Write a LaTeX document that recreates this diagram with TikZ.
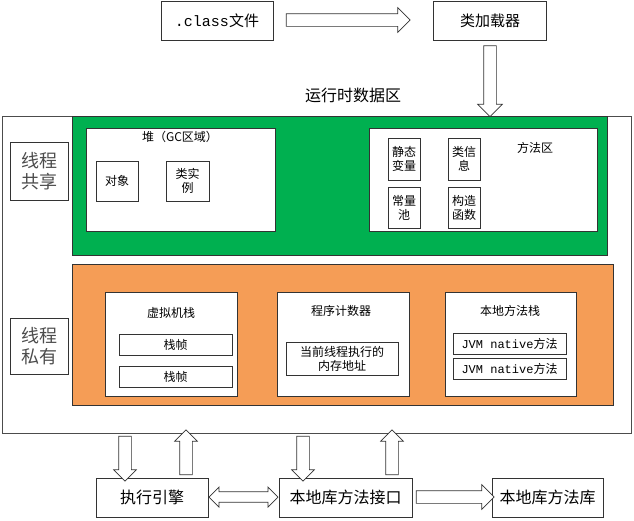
\documentclass[tikz,border=0pt]{standalone}
\usepackage{fontspec}
\setmainfont{Noto Sans CJK SC}
\newfontfamily\monof{Liberation Mono}
\usetikzlibrary{shapes.arrows}
\definecolor{gr}{HTML}{00B050}
\definecolor{og}{HTML}{F59D56}
\begin{document}
\begin{tikzpicture}[x=1pt,y=-1pt,
  bx/.style={draw=black!80,fill=white,line width=0.8pt},
  lbl/.style={font=\fontsize{12}{14}\selectfont,align=center},
  harr/.style={single arrow,draw=black!80,fill=white,inner sep=0pt,minimum width=24pt,single arrow head extend=6pt,single arrow head indent=0pt,text height=12pt, text depth=0pt,line width=0.7pt},
  varr/.style={harr,minimum width=22pt,single arrow head extend=5pt},
  darr/.style={double arrow,draw=black!80,fill=white,inner sep=0pt,minimum width=20pt,double arrow head extend=4pt,text height=8pt,text depth=0pt,line width=0.7pt}]
\useasboundingbox (0,0) rectangle (634,520);
\fill[white] (0,0) rectangle (634,520);
% top
\node[bx,minimum width=112,minimum height=39,font=\fontsize{15}{17}\selectfont] (cls) at (217,21) {{\monof .class}文件};
\node[bx,minimum width=113,minimum height=39,font=\fontsize{15}{17}\selectfont] (ld) at (490,21) {类加载器};
\node[harr,minimum height=124] (a1) at (345,20) {};
\node[harr,minimum height=71,rotate=-90] (a2) at (490,78) {};
\node[font=\fontsize{16}{18}\selectfont] (rt) at (353,95) {运行时数据区};
% outer
\node[draw=black!70,line width=0.8pt,minimum width=629,minimum height=317,anchor=north west,inner sep=0] (outer) at (2,116) {};
\fill[gr,draw=black!80,line width=0.8pt] (72,116) rectangle (607,255);
\fill[og,draw=black!80,line width=0.8pt] (72,264) rectangle (613,405);
\node[bx,minimum width=58,minimum height=58,font=\fontsize{18}{21}\selectfont,text=black!70,align=center,inner sep=0] (gx) at (39,171) {线程\\共享};
\node[bx,minimum width=58,minimum height=56,font=\fontsize{18}{21}\selectfont,text=black!70,align=center,inner sep=0] (sy) at (39,346) {线程\\私有};
% heap
\node[bx,minimum width=189,minimum height=103,anchor=north west] (heap) at (86,128) {};
\node[lbl] (heapt) at (180,137) {堆（GC区域）};
\node[bx,lbl,minimum width=42,minimum height=40,inner sep=0] (obj) at (117,181) {对象};
\node[bx,lbl,minimum width=43,minimum height=40,inner sep=0] (inst) at (187.5,181) {类实\\例};
% method area
\node[bx,minimum width=228,minimum height=103,anchor=north west] (ma) at (369,128) {};
\node[lbl] (mat) at (535,148) {方法区};
\node[bx,lbl,minimum width=32,minimum height=42,inner sep=0] (s1) at (404,159) {静态\\变量};
\node[bx,lbl,minimum width=32,minimum height=42,inner sep=0] (s2) at (464,159) {类信\\息};
\node[bx,lbl,minimum width=32,minimum height=41,inner sep=0] (s3) at (404,207.5) {常量\\池};
\node[bx,lbl,minimum width=32,minimum height=41,inner sep=0] (s4) at (464,207.5) {构造\\函数};
% private
\node[bx,minimum width=132,minimum height=104,anchor=north west] (vs) at (105,292) {};
\node[lbl] (vst) at (171,313) {虚拟机栈};
\node[bx,lbl,minimum width=113,minimum height=21,inner sep=0] (f1) at (175.5,344.5) {栈帧};
\node[bx,lbl,minimum width=113,minimum height=21,inner sep=0] (f2) at (175.5,376.5) {栈帧};
\node[bx,minimum width=132,minimum height=104,anchor=north west] (pc) at (277,292) {};
\node[lbl] (pct) at (341,311) {程序计数器};
\node[bx,lbl,minimum width=112,minimum height=33,inner sep=0] (pci) at (342,358.5) {当前线程执行的\\内存地址};
\node[bx,minimum width=131,minimum height=104,anchor=north west] (ns) at (445,292) {};
\node[lbl] (nst) at (510,311) {本地方法栈};
\node[bx,minimum width=113,minimum height=21,inner sep=0,font=\fontsize{12}{14}\selectfont] (n1) at (509.5,343.5) {{\monof JVM native}方法};
\node[bx,minimum width=113,minimum height=21,inner sep=0,font=\fontsize{12}{14}\selectfont] (n2) at (509.5,368.5) {{\monof JVM native}方法};
% bottom
\node[bx,minimum width=112,minimum height=39,font=\fontsize{16}{18}\selectfont] (ee) at (152,497.5) {执行引擎};
\node[bx,minimum width=133,minimum height=39,font=\fontsize{16}{18}\selectfont] (ni) at (345.5,497.5) {本地库方法接口};
\node[bx,minimum width=111,minimum height=39,font=\fontsize{16}{18}\selectfont] (nl) at (547.5,497.5) {本地库方法库};
\node[varr,minimum height=45,rotate=-90] (d1) at (125,455.5) {};
\node[varr,minimum height=45,rotate=90] (u1) at (186,455.5) {};
\node[varr,minimum height=45,rotate=-90] (d2) at (303,455.5) {};
\node[varr,minimum height=45,rotate=90] (u2) at (392,455.5) {};
\node[darr,minimum height=69] (bi) at (243.5,497) {};
\node[harr,minimum height=78,minimum width=22pt] (ra) at (452,497) {};
\end{tikzpicture}
\end{document}
